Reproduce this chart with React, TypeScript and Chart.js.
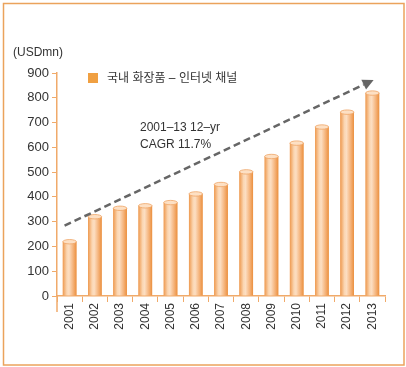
import React, { useEffect, useRef } from 'react';
import { Chart, registerables } from 'chart.js';

Chart.register(...registerables);

const years = ['2001', '2002', '2003', '2004', '2005', '2006', '2007', '2008', '2009', '2010', '2011', '2012', '2013'];
const values = [219, 320, 354, 364, 377, 412, 450, 501, 563, 617, 682, 742, 819];
const yMin = 0;
const yMax = 900;
const yStep = 100;
const unitLabel = '(USDmn)';
const legendLabel = '국내 화장품 – 인터넷 채널';
const cagrLines = ['2001–13 12–yr', 'CAGR 11.7%'];
// trend arrow endpoints in data coordinates: [category index, value]
const trendFrom = [-0.2, 284];
const trendTo = [12.05, 872];

const FONT = '"Liberation Sans", Arial, "Noto Sans CJK KR", sans-serif';
const TEXT = '#333333';
const AXIS = '#f0aa6a';
const FRAME = '#eba35c';

const decorPlugin = {
  id: 'decor',
  beforeDraw(chart: any) {
    const ctx = chart.ctx;
    ctx.save();
    ctx.fillStyle = '#ffffff';
    ctx.fillRect(0, 0, chart.width, chart.height);
    ctx.strokeStyle = FRAME;
    ctx.lineWidth = 1.5;
    ctx.strokeRect(3.5, 3.5, chart.width - 5.5, chart.height - 5.5);
    ctx.restore();
  },
  afterDatasetsDraw(chart: any) {
    const ctx = chart.ctx;
    const meta = chart.getDatasetMeta(0);
    ctx.save();
    meta.data.forEach((el: any) => {
      const p = el.getProps(['x', 'y', 'base', 'width'], true);
      const left = p.x - p.width / 2;
      const g = ctx.createLinearGradient(left, 0, left + p.width, 0);
      g.addColorStop(0, '#ee9a50');
      g.addColorStop(0.3, '#fbd6b2');
      g.addColorStop(0.45, '#fcdec2');
      g.addColorStop(0.75, '#f5b47c');
      g.addColorStop(1, '#eb903f');
      ctx.fillStyle = g;
      ctx.fillRect(left, p.y, p.width, p.base - p.y);
      ctx.beginPath();
      ctx.ellipse(p.x, p.y, p.width / 2, 2.2, 0, 0, Math.PI * 2);
      ctx.fillStyle = '#fde0c4';
      ctx.fill();
      ctx.strokeStyle = '#efa566';
      ctx.lineWidth = 0.8;
      ctx.stroke();
    });
    ctx.restore();
  },
  afterDraw(chart: any) {
    const ctx = chart.ctx;
    const xs = chart.scales.x;
    const ys = chart.scales.y;
    const area = chart.chartArea;
    ctx.save();
    // y axis extension below zero
    ctx.strokeStyle = AXIS;
    ctx.lineWidth = 1.5;
    ctx.beginPath();
    ctx.moveTo(area.left, area.bottom);
    ctx.lineTo(area.left, area.bottom + 16);
    ctx.stroke();

    // unit label
    ctx.fillStyle = TEXT;
    ctx.font = `12px ${FONT}`;
    ctx.textBaseline = 'middle';
    ctx.textAlign = 'left';
    ctx.fillText(unitLabel, 13, 53);

    // legend
    ctx.fillStyle = '#f0a042';
    ctx.fillRect(88, 73, 10, 10);
    ctx.fillStyle = TEXT;
    ctx.font = `12px ${FONT}`;
    ctx.fillText(legendLabel, 107, 78.5);

    // CAGR annotation
    ctx.font = `12px ${FONT}`;
    cagrLines.forEach((t, i) => ctx.fillText(t, 140, 128 + i * 17));

    // trend arrow
    const x0 = xs.getPixelForValue(trendFrom[0]);
    const y0 = ys.getPixelForValue(trendFrom[1]);
    const x1 = xs.getPixelForValue(trendTo[0]);
    const y1 = ys.getPixelForValue(trendTo[1]);
    const ang = Math.atan2(y1 - y0, x1 - x0);
    const headLen = 11;
    const bx = x1 - headLen * Math.cos(ang);
    const by = y1 - headLen * Math.sin(ang);
    ctx.strokeStyle = '#666666';
    ctx.lineWidth = 2.5;
    ctx.setLineDash([7, 4]);
    ctx.beginPath();
    ctx.moveTo(x0, y0);
    ctx.lineTo(bx, by);
    ctx.stroke();
    ctx.setLineDash([]);
    ctx.fillStyle = '#666666';
    ctx.beginPath();
    ctx.moveTo(x1, y1);
    ctx.lineTo(bx + 5.5 * Math.sin(ang), by - 5.5 * Math.cos(ang));
    ctx.lineTo(bx - 5.5 * Math.sin(ang), by + 5.5 * Math.cos(ang));
    ctx.closePath();
    ctx.fill();
    ctx.restore();
  },
};

export default function App() {
  const ref = useRef<HTMLCanvasElement | null>(null);
  useEffect(() => {
    if (!ref.current) return;
    const chart = new Chart(ref.current, {
      type: 'bar',
      data: {
        labels: years,
        datasets: [
          {
            data: values,
            backgroundColor: '#f2a561',
            borderWidth: 0,
            categoryPercentage: 1,
            barPercentage: 0.54,
          },
        ],
      },
      options: {
        animation: false,
        responsive: false,
        maintainAspectRatio: false,
        devicePixelRatio: 1,
        layout: { padding: { top: 73, right: 21, left: 0, bottom: 0 } },
        plugins: { legend: { display: false }, tooltip: { enabled: false }, title: { display: false } },
        scales: {
          x: {
            grid: { display: true, drawOnChartArea: false, offset: true, tickLength: 6, color: AXIS, lineWidth: 1 },
            border: { color: AXIS, width: 1.5 },
            ticks: { minRotation: 90, maxRotation: 90, color: TEXT, font: { size: 12, family: FONT }, padding: 1 },
            afterFit: (s: any) => { s.height = 71; },
          },
          y: {
            min: yMin,
            max: yMax,
            ticks: { stepSize: yStep, color: TEXT, font: { size: 13, family: FONT }, padding: 3 },
            grid: { display: true, drawOnChartArea: false, tickLength: 5, color: AXIS, lineWidth: 1 },
            border: { color: AXIS, width: 1.5 },
            afterFit: (s: any) => { s.width = 57; },
          },
        },
      },
      plugins: [decorPlugin],
    });
    return () => chart.destroy();
  }, []);
  return (
    <div style={{ position: 'fixed', left: 0, top: 0, width: 406, height: 367 }}>
      <canvas ref={ref} width={406} height={367} style={{ width: 406, height: 367, display: 'block' }} />
    </div>
  );
}
